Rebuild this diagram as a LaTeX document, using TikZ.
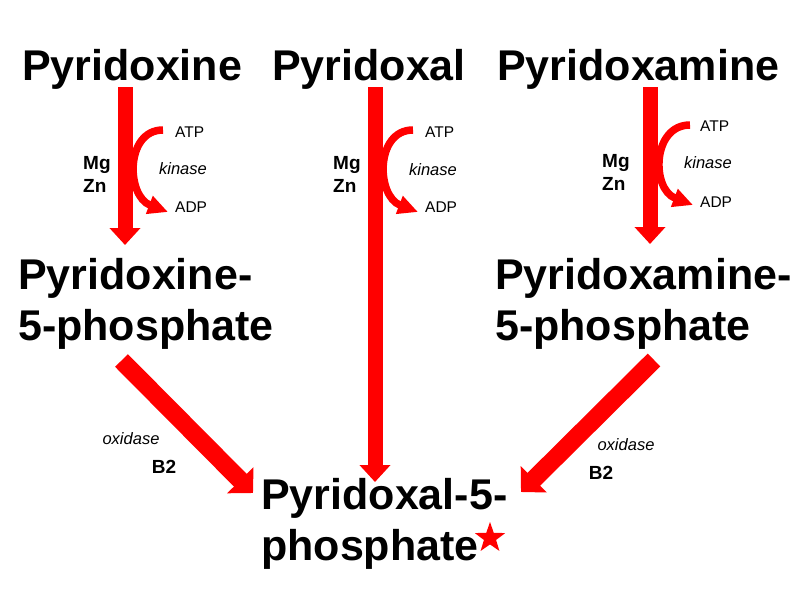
\documentclass[tikz,border=0pt]{standalone}
\usepackage{fontspec}
\setmainfont{Liberation Sans}
\usetikzlibrary{arrows.meta,shapes.geometric}
\definecolor{pred}{RGB}{255,0,0}
\begin{document}
\begin{tikzpicture}[x=1pt,y=-1pt,
  big/.style={font=\bfseries\fontsize{43}{51}\selectfont, inner sep=0pt, anchor=base west, align=left},
  small/.style={font=\fontsize{15.5}{18}\selectfont, inner sep=0pt, anchor=west},
  enz/.style={font=\itshape\fontsize{16.5}{19}\selectfont, inner sep=0pt},
  cof/.style={font=\bfseries\fontsize{19}{23}\selectfont, inner sep=0pt, align=left, anchor=base west},
  mainarrow/.style={draw=pred, line width=15pt, -{Triangle[length=17pt,width=30pt]}},
  bigarrow/.style={draw=pred, line width=18pt, -{Triangle[length=18pt,width=36pt]}},
  curvarrow/.style={draw=pred, line width=7.5pt, -{Triangle[length=20pt,width=18pt]}},
]
\useasboundingbox (0,0) rectangle (800,600);
\fill[white] (0,0) rectangle (800,600);

% compounds
\node[big] (pn) at (22,80) {Pyridoxine};
\node[big] (pl) at (272,80) {Pyridoxal};
\node[big] (pm) at (497,80) {Pyridoxamine};
\node[big] (pnp) at (18,340) {Pyridoxine-\\5-phosphate};
\node[big] (pmp) at (495,340) {Pyridoxamine-\\5-phosphate};
\node[big] (plp) at (261,560) {Pyridoxal-5-\\phosphate};
\node[star, star points=5, star point ratio=2.5, fill=pred, minimum size=32pt, inner sep=0pt] (star) at (490,538) {};

% arrow end points
\coordinate (a1s) at (125,87);  \coordinate (a1e) at (125,245);
\coordinate (a2s) at (375,87);  \coordinate (a2e) at (375,482);
\coordinate (a3s) at (650,87);  \coordinate (a3e) at (650,244);
\coordinate (d1s) at (121.5,360.5); \coordinate (d1e) at (253,493);
\coordinate (d2s) at (654,360); \coordinate (d2e) at (521,492);
\coordinate (k1s) at (163,130); \coordinate (k1e) at (168,212);
\coordinate (k2s) at (413,130); \coordinate (k2e) at (418,212);
\coordinate (k3s) at (690,125); \coordinate (k3e) at (693,205);

\draw[mainarrow] (a1s) -- (a1e);
\draw[mainarrow] (a2s) -- (a2e);
\draw[mainarrow] (a3s) -- (a3e);
\draw[bigarrow] (d1s) -- (d1e);
\draw[bigarrow] (d2s) -- (d2e);
\draw[curvarrow] (k1s) .. controls +(-38,0) and +(-42,-16) .. (k1e);
\draw[curvarrow] (k2s) .. controls +(-38,0) and +(-42,-16) .. (k2e);
\draw[curvarrow] (k3s) .. controls +(-38,0) and +(-42,-16) .. (k3e);

% kinase labels
\node[small] (atp1) at (175,132) {ATP};
\node[enz] (kin1) at (183,169) {kinase};
\node[small] (adp1) at (175,207) {ADP};
\node[cof] (mz1) at (83,192) {Mg\\Zn};

\node[small] (atp2) at (425,132) {ATP};
\node[enz] (kin2) at (433,170) {kinase};
\node[small] (adp2) at (425,207) {ADP};
\node[cof] (mz2) at (333,192) {Mg\\Zn};

\node[small] (atp3) at (700,126) {ATP};
\node[enz] (kin3) at (708,163) {kinase};
\node[small] (adp3) at (700,202) {ADP};
\node[cof] (mz3) at (602,190) {Mg\\Zn};

% oxidase labels
\node[enz] (ox1) at (131,439) {oxidase};
\node[cof, anchor=center] (b21) at (164,467) {B2};
\node[enz] (ox2) at (626,445) {oxidase};
\node[cof, anchor=center] (b22) at (601,473) {B2};
\end{tikzpicture}
\end{document}
